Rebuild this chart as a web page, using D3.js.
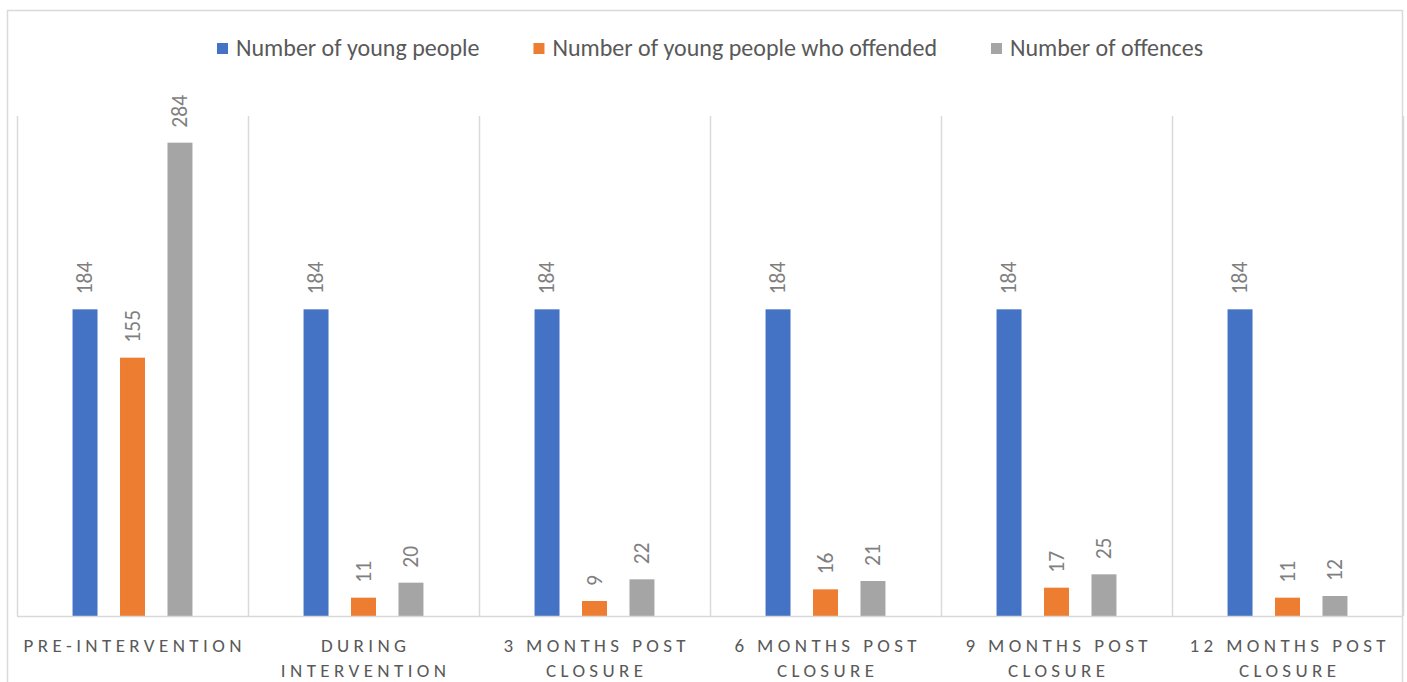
<!DOCTYPE html>
<html>
<head>
<meta charset="utf-8">
<script src="https://cdn.jsdelivr.net/npm/d3@7"></script>
<style>
  html, body { margin: 0; padding: 0; background: #fff; }
  svg { display: block; }
  text { font-family: Carlito, Calibri, "Open Sans", sans-serif; }
</style>
</head>
<body>
<svg id="chart" width="1407" height="682"></svg>
<script>
// Periods and series counts
const categories = [
  ["PRE-INTERVENTION"],
  ["DURING", "INTERVENTION"],
  ["3 MONTHS POST", "CLOSURE"],
  ["6 MONTHS POST", "CLOSURE"],
  ["9 MONTHS POST", "CLOSURE"],
  ["12 MONTHS POST", "CLOSURE"]
];
const seriesNames = [
  "Number of young people",
  "Number of young people who offended",
  "Number of offences"
];
const youngPeople = [184, 184, 184, 184, 184, 184];
const offended = [155, 11, 9, 16, 17, 11];
const offences = [284, 20, 22, 21, 25, 12];
const colors = ["#4472C4", "#ED7D31", "#A5A5A5"];
const yMax = 300;

const series = [youngPeople, offended, offences];
const svg = d3.select("#chart");
const W = 1407, H = 682;
const margin = { left: 17, right: 4, top: 116, bottom: 66 };
const plotW = W - margin.left - margin.right;
const baseY = H - margin.bottom;

// Outer chart frame
svg.append("rect")
  .attr("x", 7.5).attr("y", 10.5)
  .attr("width", 1395).attr("height", 700)
  .attr("fill", "none").attr("stroke", "#D9D9D9").attr("stroke-width", 1.5);

const catIdx = categories.map((d, i) => i);
const x0 = d3.scaleBand().domain(catIdx).range([margin.left, margin.left + plotW]).padding(0);
const x1 = d3.scaleBand().domain([0, 1, 2]).range([0, x0.bandwidth()]).paddingInner(0.474).paddingOuter(1.17);
const y = d3.scaleLinear().domain([0, yMax]).range([baseY, margin.top]);

// Category separators
const g = svg.append("g");
const bounds = catIdx.map(i => x0(i)).concat([x0(catIdx.length - 1) + x0.bandwidth()]);
g.selectAll("line.sep").data(bounds).join("line")
  .attr("class", "sep")
  .attr("x1", d => Math.round(d) + 0.5).attr("x2", d => Math.round(d) + 0.5)
  .attr("y1", margin.top).attr("y2", baseY)
  .attr("stroke", "#D9D9D9").attr("stroke-width", 1.5);

// Bars
const bars = [];
series.forEach((vals, s) => vals.forEach((v, c) => bars.push({ s, c, v })));
g.selectAll("rect.bar").data(bars).join("rect")
  .attr("class", "bar")
  .attr("x", d => x0(d.c) + x1(d.s))
  .attr("width", x1.bandwidth())
  .attr("y", d => y(d.v))
  .attr("height", d => baseY - y(d.v))
  .attr("fill", d => colors[d.s]);

// Baseline
svg.append("line")
  .attr("x1", margin.left).attr("x2", margin.left + plotW)
  .attr("y1", baseY + 0.5).attr("y2", baseY + 0.5)
  .attr("stroke", "#D9D9D9").attr("stroke-width", 1.5);

// Value labels, rotated
g.selectAll("text.val").data(bars).join("text")
  .attr("class", "val")
  .attr("transform", d => `translate(${x0(d.c) + x1(d.s) + x1.bandwidth() / 2},${y(d.v) - 15}) rotate(-90)`)
  .attr("text-anchor", "start")
  .attr("dy", "0.33em")
  .attr("font-size", 21.5)
  .attr("fill", "#7F7F7F")
  .text(d => d.v);

// Category labels
const xl = svg.append("g");
const spacing = 4.4;
categories.forEach((lines, i) => {
  const cx = x0(i) + x0.bandwidth() / 2;
  const t = xl.append("text")
    .attr("text-anchor", "middle")
    .attr("font-size", 19)
    .attr("letter-spacing", spacing)
    .attr("fill", "#595959");
  lines.forEach((ln, k) => {
    t.append("tspan").attr("x", cx + spacing / 2).attr("y", 651.5 + k * 25).text(ln);
  });
});

// Legend across the top
const leg = svg.append("g");
const gap = 54, sw = 11, sp = 8;
let lx = 217;
seriesNames.forEach((name, i) => {
  leg.append("rect").attr("x", lx).attr("y", 43).attr("width", sw).attr("height", sw).attr("fill", colors[i]);
  const t = leg.append("text").attr("x", lx + sw + sp).attr("y", 56)
    .attr("font-size", 24).attr("fill", "#595959").text(name);
  lx += sw + sp + t.node().getComputedTextLength() + gap;
});
</script>
</body>
</html>
